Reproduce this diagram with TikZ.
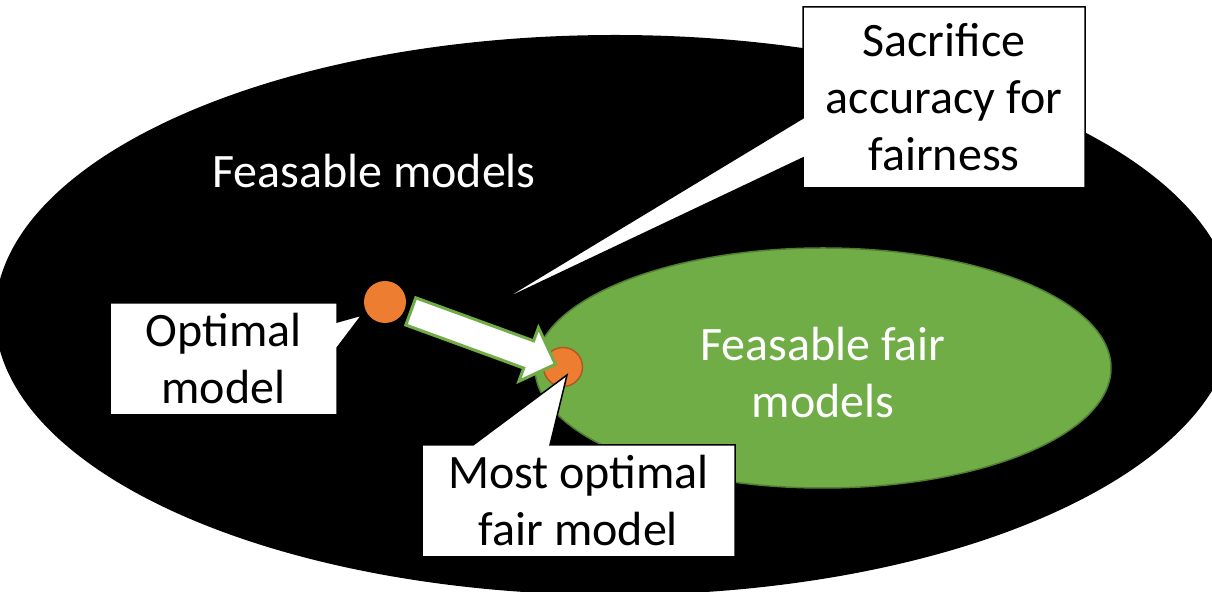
\documentclass[tikz,border=0pt]{standalone}
\usepackage{fontspec}
\setmainfont{Carlito}
\usetikzlibrary{calc,shapes.arrows}

\definecolor{fairgreen}{HTML}{70AD47}
\definecolor{fairedge}{HTML}{507E32}
\definecolor{dotorange}{HTML}{ED7D31}
\definecolor{dotedge}{HTML}{AE5A21}

\pgfdeclarelayer{front}
\pgfsetlayers{main,front}

\tikzset{
  bigtext/.style={font=\fontsize{24}{28.5}\selectfont, align=center},
  callbox/.style={bigtext, text=black, inner sep=0pt, outer sep=0pt},
  callshape/.style={fill=white, draw=black, line width=0.75pt, line join=miter},
  modeldot/.style={circle, fill=dotorange, minimum size=21pt, inner sep=0pt},
  shiftarrow/.style={single arrow, fill=white, draw=fairgreen, line width=1.5pt,
    minimum height=77pt, minimum width=27pt, single arrow head extend=7pt,
    single arrow tip angle=90, inner sep=6.5pt}
}

\begin{document}
\begin{tikzpicture}[x=0.5pt, y=-0.5pt]
\useasboundingbox (0,0) rectangle (1212,592);
\clip (0,0) rectangle (1212,592);

% Feasable models (black region)
\fill[black] (615,315) ellipse [x radius=620, y radius=280];
\node[bigtext, text=white] (feas) at (374,171) {Feasable models};

% Feasable fair models (green region)
\draw[fill=fairgreen, draw=fairedge, line width=0.75pt] (823,368) ellipse [x radius=288, y radius=120];
\node[bigtext, text=white] (fair) at (823,373) {Feasable fair\\models};

% Model dots
\node[modeldot] (optdot) at (385,302) {};
\node[modeldot, draw=dotedge, line width=0.75pt, minimum size=19.5pt] (fairdot) at (563,367) {};

% Shift arrow
\path (optdot.center) -- (fairdot.center) node[pos=0.513, sloped, shiftarrow] (shift) {};

% Callout texts
\begin{pgfonlayer}{front}
  \node[callbox, minimum width=113.5pt, minimum height=56pt] (optbox) at (223.5,359) {Optimal\\model};
  \node[callbox, minimum width=141pt, minimum height=90.5pt] (sacbox) at (944,97.5) {Sacrifice\\accuracy for\\fairness};
  \node[callbox, minimum width=156.5pt, minimum height=56pt] (bestbox) at (578.5,501) {Most optimal\\fair model};
\end{pgfonlayer}

% Callout tips
\coordinate (opttip) at (362,315);
\coordinate (sactip) at (497,303);
\coordinate (besttip) at (567,375);

% Callout shapes
\draw[callshape] (optbox.north west) -- (optbox.north east) -- ($(optbox.north east)+(0,19)$)
  -- (opttip) -- ($(optbox.north east)+(0,45)$) -- (optbox.south east) -- (optbox.south west) -- cycle;
\draw[callshape] (sacbox.north west) -- (sacbox.north east) -- (sacbox.south east) -- (sacbox.south west)
  -- ($(sacbox.north west)+(0,151)$) -- (sactip) -- ($(sacbox.north west)+(0,111)$) -- cycle;
\draw[callshape] (bestbox.north west) -- ($(bestbox.north west)+(51,0)$) -- (besttip)
  -- ($(bestbox.north west)+(128,0)$) -- (bestbox.north east) -- (bestbox.south east) -- (bestbox.south west) -- cycle;

\end{tikzpicture}
\end{document}
